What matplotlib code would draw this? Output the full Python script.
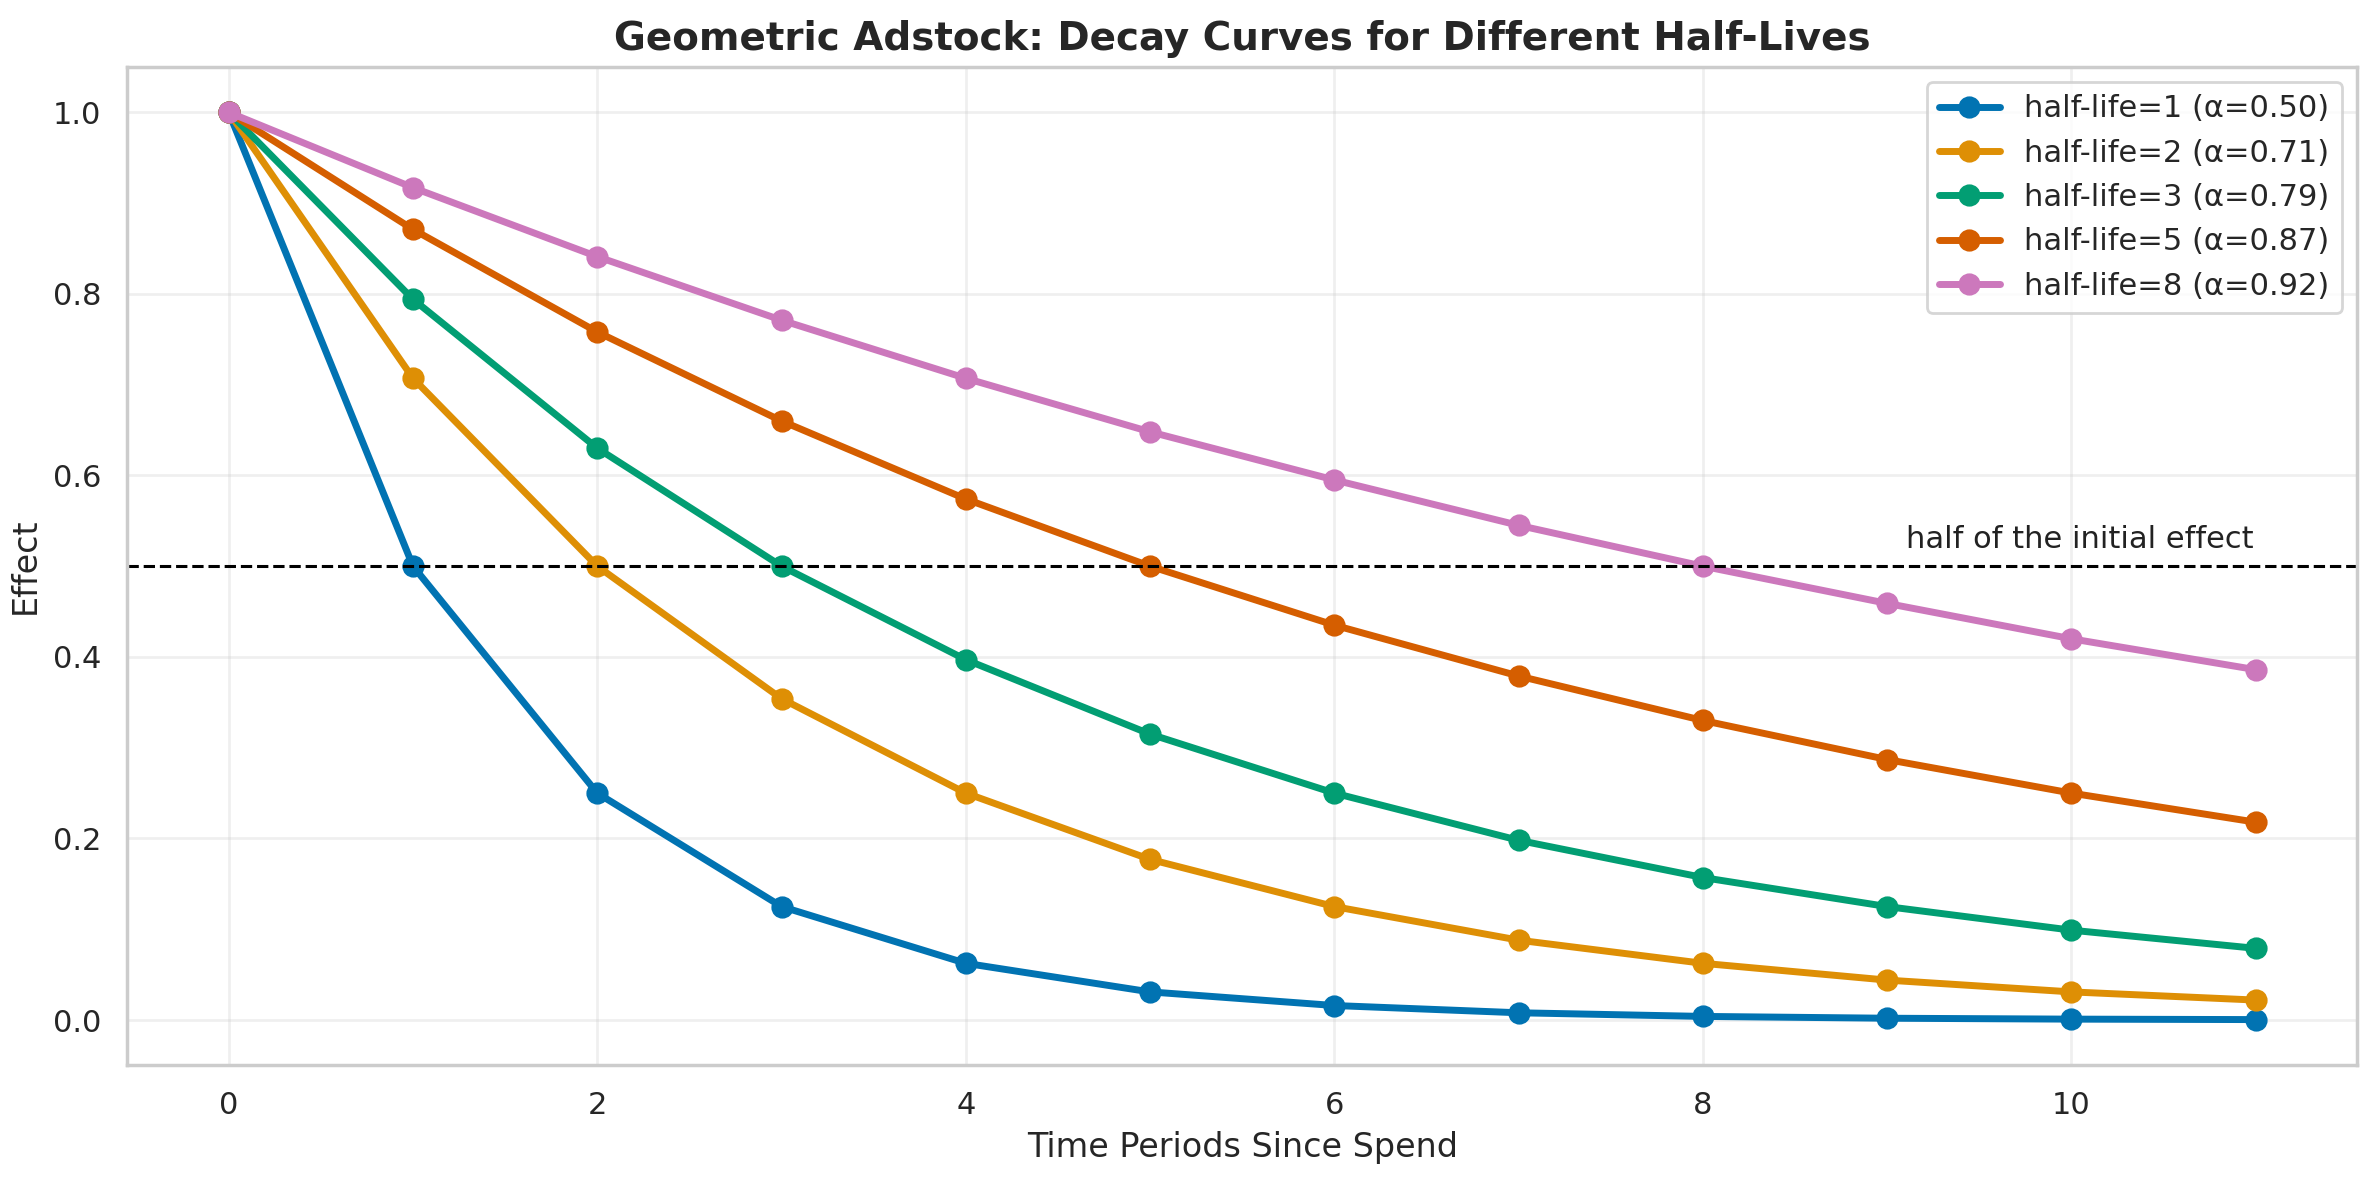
import matplotlib
matplotlib.use("Agg")
import matplotlib.pyplot as plt
import seaborn as sns

sns.set_theme(style="whitegrid")
plt.rcParams['font.family'] = ['DejaVu Sans']

periods = list(range(12))
labels = ["half-life=1 (α=0.50)", "half-life=2 (α=0.71)", "half-life=3 (α=0.79)",
          "half-life=5 (α=0.87)", "half-life=8 (α=0.92)"]
hl1 = [1.0, 0.5, 0.25, 0.125, 0.0625, 0.031, 0.016, 0.008, 0.004, 0.002, 0.001, 0.0005]
hl2 = [1.0, 0.707, 0.5, 0.354, 0.25, 0.177, 0.125, 0.088, 0.0625, 0.044, 0.031, 0.022]
hl3 = [1.0, 0.794, 0.630, 0.5, 0.397, 0.315, 0.25, 0.198, 0.157, 0.125, 0.099, 0.079]
hl5 = [1.0, 0.871, 0.758, 0.660, 0.574, 0.5, 0.435, 0.379, 0.330, 0.287, 0.25, 0.218]
hl8 = [1.0, 0.917, 0.841, 0.771, 0.707, 0.648, 0.595, 0.545, 0.5, 0.459, 0.420, 0.386]
series = [hl1, hl2, hl3, hl5, hl8]

colors = sns.color_palette("colorblind")

fig, ax = plt.subplots(figsize=(11.885, 5.885), dpi=200)
for vals, lab, c in zip(series, labels, colors):
    ax.plot(periods, vals, marker='o', linewidth=2.5, markersize=7, label=lab, color=c)

ax.axhline(0.5, color='black', linestyle='--', linewidth=1.1)
ax.text(9.1, 0.52, "half of the initial effect", fontsize=11, color='#222222')

ax.set_title("Geometric Adstock: Decay Curves for Different Half-Lives",
             fontsize=14, fontweight='bold')
ax.set_xlabel("Time Periods Since Spend", fontsize=12)
ax.set_ylabel("Effect", fontsize=12)
ax.grid(True, alpha=0.3)
ax.legend(fontsize=11, loc='upper right')
fig.subplots_adjust(left=0.0536, right=0.9916, top=0.9431, bottom=0.0952)
fig.savefig("out.png", dpi=200)
